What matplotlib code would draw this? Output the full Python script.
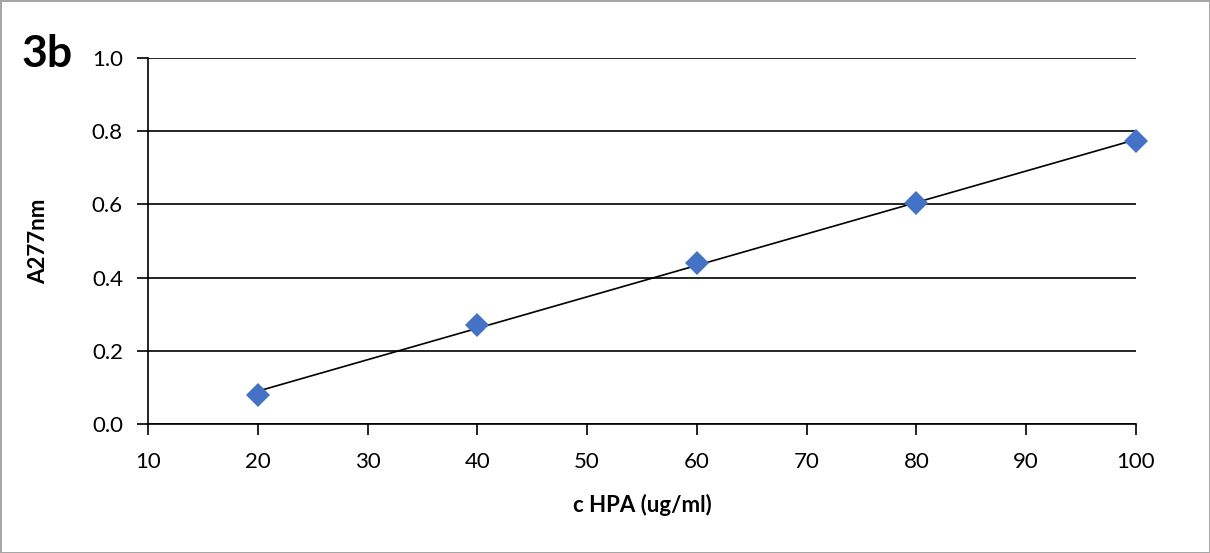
import matplotlib.pyplot as plt
import numpy as np

conc = [20, 40, 60, 80, 100]
absorb = [0.08, 0.27, 0.44, 0.605, 0.772]
xticks = [10, 20, 30, 40, 50, 60, 70, 80, 90, 100]
yticks = [0.0, 0.2, 0.4, 0.6, 0.8, 1.0]

plt.rcParams['font.family'] = ['Lato', 'DejaVu Sans']

fig = plt.figure(figsize=(12.1, 5.53), dpi=100)
fig.patch.set_edgecolor('#a6a6a6')
fig.patch.set_linewidth(2)
ax = fig.add_axes([0.1223, 0.2333, 0.8165, 0.6618])

# linear trend line
k, b = np.polyfit(conc, absorb, 1)
xs = np.array([conc[0], conc[-1]])
ax.plot(xs, k * xs + b, color='black', lw=1.2, zorder=2)
ax.plot(conc, absorb, 'D', color='#4472C4', markersize=12, markeredgewidth=0,
        zorder=3, clip_on=False)

ax.set_xlim(10, 100)
ax.set_ylim(0, 1.0)
ax.set_xticks(xticks)
ax.set_yticks(yticks)
ax.set_yticklabels([f'{v:.1f}' for v in yticks])
ax.tick_params(axis='both', direction='out', length=8, width=1.2, labelsize=16, color='black')
ax.tick_params(axis='x', pad=12)
ax.tick_params(axis='y', pad=10)
ax.grid(axis='y', color='black', lw=1.2)
ax.set_axisbelow(True)
for s in ['top', 'right']:
    ax.spines[s].set_visible(False)
for s in ['left', 'bottom']:
    ax.spines[s].set_linewidth(1.2)

ax.set_xlabel('c HPA (ug/ml)', fontsize=16, fontweight='bold', labelpad=16)
ax.set_ylabel('A277nm', fontsize=16, fontweight='bold', labelpad=31)
fig.text(0.018, 0.878, '3b', fontsize=32, fontweight='bold')

fig.savefig('out.png')
